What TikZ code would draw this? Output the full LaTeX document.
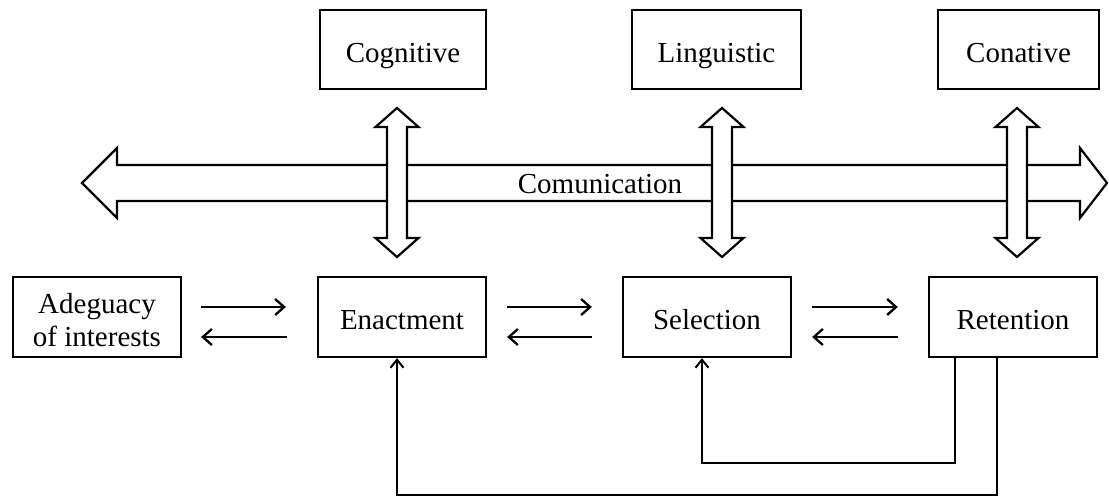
\documentclass[tikz,border=0pt]{standalone}
\usepackage{fontspec}
\setmainfont{Liberation Serif}
\usetikzlibrary{arrows.meta}

% draws a vertical two-headed block arrow centred at x = #1
\newcommand{\blockvarrow}[1]{%
  \draw[bigarrow] (#1,108) -- (#1+21.5,127) -- (#1+10,127) -- (#1+10,238)
    -- (#1+21.5,238) -- (#1,257) -- (#1-21.5,238) -- (#1-10,238)
    -- (#1-10,127) -- (#1-21.5,127) -- cycle;}

\begin{document}
\begin{tikzpicture}[x=1pt,y=-1pt,
  txt/.style={font=\fontsize{29}{33}\selectfont},
  box/.style={draw,line width=2.3pt,minimum height=80pt,inner sep=0pt,
    align=center,txt},
  onel/.style={text height=26pt,text depth=0pt},
  bigarrow/.style={draw,fill=white,line width=2.2pt,line join=miter},
  sarrow/.style={line width=2.3pt,-{Straight Barb[length=9pt,width=16pt,line width=2.3pt]}},
  fb/.style={line width=2pt,-{Straight Barb[length=8pt,width=13pt,line width=2pt]}}]
\useasboundingbox (0,0) rectangle (1109,497);

% top boxes
\node[box,onel,minimum width=166pt,minimum height=79pt] (cog) at (403,49.5) {Cognitive};
\node[box,onel,minimum width=169pt,minimum height=79pt] (lin) at (716.5,49.5) {Linguistic};
\node[box,onel,minimum width=161pt,minimum height=79pt] (con) at (1018.5,49.5) {Conative};

% process boxes
\node[box,minimum width=168pt] (ade) at (97,317) {};
\node[txt,align=center,inner sep=0pt] (adetext) at (97,320) {Adeguacy\\of interests};
\node[box,onel,minimum width=168pt] (ena) at (402,317) {Enactment};
\node[box,onel,minimum width=168pt] (sel) at (707,317) {Selection};
\node[box,onel,minimum width=168pt] (ret) at (1013,317) {Retention};

% communication block arrow
\draw[bigarrow] (82,183) -- (117,148) -- (117,165) -- (1080,165) -- (1080,148)
  -- (1107,183) -- (1080,218) -- (1080,201) -- (117,201) -- (117,218) -- cycle;
\node[txt,onel] (com) at (600,181) {Comunication};

% vertical block arrows
\blockvarrow{397}
\blockvarrow{722}
\blockvarrow{1017}

% arrows between process boxes
\draw[sarrow] ([shift={(19,-10)}]ade.east) -- ([shift={(-31,-10)}]ena.west);
\draw[sarrow] ([shift={(-30,20)}]ena.west) -- ([shift={(19,20)}]ade.east);
\draw[sarrow] ([shift={(20,-10)}]ena.east) -- ([shift={(-30,-10)}]sel.west);
\draw[sarrow] ([shift={(-30,20)}]sel.west) -- ([shift={(20,20)}]ena.east);
\draw[sarrow] ([shift={(20,-10)}]sel.east) -- ([shift={(-30,-10)}]ret.west);
\draw[sarrow] ([shift={(-30,20)}]ret.west) -- ([shift={(20,20)}]sel.east);

% feedback loops from retention
\coordinate (r1) at ([xshift=-58pt]ret.south);
\coordinate (r2) at ([xshift=-16pt]ret.south);
\coordinate (s1) at ([xshift=-5pt]sel.south);
\coordinate (e1) at ([xshift=-5pt]ena.south);
\coordinate (k1) at (955,463);
\coordinate (k2) at (997,495);
\draw[fb] (r1) -- (k1) -| (s1);
\draw[fb] (r2) -- (k2) -| (e1);
\end{tikzpicture}
\end{document}
